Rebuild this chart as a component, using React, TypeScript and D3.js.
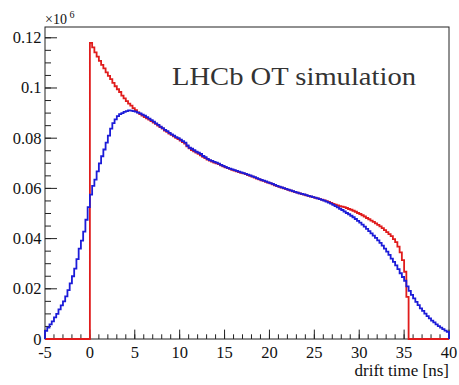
import React from "react";
import * as d3 from "d3";

const binLow = -5;
const binWidth = 0.25;

// blue histogram contents (x10^6), bins of 0.25 ns from -5 to 40 ns
const blueValues = [
  0.0032,0.0045,0.0058,0.0070,0.0086,0.0100,0.0118,0.0134,0.0150,0.0170,0.0195,0.0222,0.0250,0.0280,0.0318,0.0360,0.0392,0.0428,0.0475,0.0525,
  0.0575,0.0610,0.0635,0.0668,0.0700,0.0728,0.0755,0.0782,0.0810,0.0838,0.0860,0.0875,0.0888,0.0896,0.0900,0.0905,0.0908,0.0911,0.0910,0.0908,
  0.0906,0.0902,0.0899,0.0894,0.0890,0.0884,0.0878,0.0872,0.0866,0.0859,0.0853,0.0846,0.0840,0.0833,0.0828,0.0821,0.0815,0.0810,0.0804,0.0800,
  0.0794,0.0788,0.0782,0.0771,0.0762,0.0758,0.0752,0.0746,0.0742,0.0737,0.0729,0.0724,0.0718,0.0713,0.0710,0.0706,0.0703,0.0699,0.0694,0.0690,
  0.0686,0.0682,0.0679,0.0676,0.0673,0.0670,0.0667,0.0664,0.0661,0.0658,0.0655,0.0652,0.0648,0.0645,0.0641,0.0637,0.0634,0.0631,0.0628,0.0624,
  0.0621,0.0618,0.0614,0.0610,0.0607,0.0604,0.0601,0.0598,0.0595,0.0592,0.0589,0.0586,0.0583,0.0580,0.0578,0.0576,0.0573,0.0570,0.0568,0.0565,
  0.0563,0.0560,0.0557,0.0554,0.0551,0.0547,0.0543,0.0539,0.0534,0.0529,0.0524,0.0519,0.0514,0.0508,0.0502,0.0497,0.0491,0.0485,0.0478,0.0471,
  0.0464,0.0456,0.0448,0.0439,0.0430,0.0421,0.0412,0.0403,0.0393,0.0383,0.0372,0.0360,0.0348,0.0335,0.0320,0.0307,0.0293,0.0278,0.0262,0.0247,
  0.0232,0.0210,0.0192,0.0176,0.0162,0.0148,0.0135,0.0122,0.0112,0.0101,0.0091,0.0082,0.0073,0.0066,0.0058,0.0051,0.0045,0.0039,0.0033,0.0028,
];

// red histogram contents (x10^6)
const redValues = [
  0,0,0,0,0,0,0,0,0,0,0,0,0,0,0,0,0,0,0,0,
  0.1180,0.1162,0.1142,0.1125,0.1108,0.1092,0.1078,0.1062,0.1048,0.1035,0.1020,0.1007,0.0995,0.0984,0.0970,0.0959,0.0948,0.0938,0.0930,0.0920,
  0.0912,0.0903,0.0896,0.0890,0.0884,0.0879,0.0874,0.0868,0.0862,0.0857,0.0850,0.0844,0.0838,0.0830,0.0825,0.0818,0.0813,0.0807,0.0801,0.0796,
  0.0790,0.0784,0.0778,0.0768,0.0760,0.0753,0.0748,0.0743,0.0738,0.0732,0.0726,0.0721,0.0715,0.0711,0.0707,0.0703,0.0700,0.0697,0.0692,0.0688,
  0.0684,0.0681,0.0678,0.0674,0.0671,0.0668,0.0665,0.0662,0.0660,0.0657,0.0653,0.0650,0.0647,0.0643,0.0639,0.0636,0.0632,0.0630,0.0626,0.0623,
  0.0620,0.0616,0.0612,0.0609,0.0606,0.0603,0.0600,0.0597,0.0594,0.0591,0.0588,0.0585,0.0583,0.0580,0.0577,0.0575,0.0572,0.0570,0.0567,0.0565,
  0.0562,0.0560,0.0557,0.0555,0.0552,0.0549,0.0546,0.0542,0.0538,0.0535,0.0532,0.0529,0.0527,0.0525,0.0522,0.0518,0.0515,0.0511,0.0507,0.0502,
  0.0498,0.0493,0.0488,0.0482,0.0477,0.0472,0.0467,0.0461,0.0455,0.0449,0.0442,0.0434,0.0426,0.0418,0.0410,0.0398,0.0386,0.0368,0.0345,0.0314,
  0.0268,0.0168,0,0,0,0,0,0,0,0,0,0,0,0,0,0,0,0,0,0,
];

const xTickValues = [-5, 0, 5, 10, 15, 20, 25, 30, 35, 40];
const yTickValues = [0, 0.02, 0.04, 0.06, 0.08, 0.1, 0.12];
const yTickLabels = ["0", "0.02", "0.04", "0.06", "0.08", "0.1", "0.12"];
const xTitle = "drift time [ns]";
const plotLabel = "LHCb OT simulation";

const W = 459;
const H = 385;
const L = 45, R = 449, T = 27, B = 339;
const FONT = '"Liberation Serif", "DejaVu Serif", "Noto Serif", Tinos, "Times New Roman", serif';

export default function App() {
  const x = d3.scaleLinear().domain([-5, 40]).range([L, R]);
  const y = d3.scaleLinear().domain([0, 0.1243]).range([B, T]);

  const histPath = (vals: number[]) => {
    const pts: [number, number][] = [[binLow, 0]];
    vals.forEach((v, i) => pts.push([binLow + i * binWidth, v]));
    const end = binLow + vals.length * binWidth;
    pts.push([end, vals[vals.length - 1]]);
    pts.push([end, 0]);
    return d3
      .line<[number, number]>()
      .x((d) => x(d[0]))
      .y((d) => y(d[1]))
      .curve(d3.curveStepAfter)(pts) as string;
  };

  const xMinor = d3.range(-5, 40.001, 1);
  const yMinor = d3.range(0, 0.1243, 0.005);
  const txt = { fontFamily: FONT } as React.CSSProperties;

  return (
    <svg width={W} height={H} style={{ display: "block", position: "absolute", left: 0, top: 0, background: "#fff" }}>
      <rect x={0} y={0} width={W} height={H} fill="#fff" />
      {/* frame */}
      <rect x={L} y={T} width={R - L} height={B - T} fill="none" stroke="#222" strokeWidth={1} />
      {/* x ticks */}
      {xMinor.map((v, i) => (
        <line key={"xm" + i} x1={x(v)} x2={x(v)} y1={B} y2={B - 4.7} stroke="#222" strokeWidth={1} />
      ))}
      {xTickValues.map((v) => (
        <line key={"xM" + v} x1={x(v)} x2={x(v)} y1={B} y2={B - 9.4} stroke="#222" strokeWidth={1} />
      ))}
      {xTickValues.map((v) => (
        <text key={"xl" + v} x={x(v)} y={358} textAnchor="middle" style={txt} fontSize={16.5} fill="#111">
          {v}
        </text>
      ))}
      {/* y ticks */}
      {yMinor.map((v, i) => (
        <line key={"ym" + i} x1={L} x2={L + 6} y1={y(v)} y2={y(v)} stroke="#222" strokeWidth={1} />
      ))}
      {yTickValues.map((v) => (
        <line key={"yM" + v} x1={L} x2={L + 12} y1={y(v)} y2={y(v)} stroke="#222" strokeWidth={1} />
      ))}
      {yTickValues.map((v, i) => (
        <text key={"yl" + v} x={41.5} y={y(v) + 5.5} textAnchor="end" style={txt} fontSize={16.5} fill="#111">
          {yTickLabels[i]}
        </text>
      ))}
      {/* exponent */}
      <text x={45} y={24} style={txt} fontSize={14} fill="#111">
        ×10
      </text>
      <text x={69.5} y={18} style={txt} fontSize={10} fill="#111">
        6
      </text>
      {/* histograms */}
      <path d={histPath(redValues)} fill="none" stroke="#e01c1c" strokeWidth={1.8} />
      <path d={histPath(blueValues)} fill="none" stroke="#1c1cd8" strokeWidth={1.8} />
      {/* axis title */}
      <text x={R} y={376} textAnchor="end" style={txt} fontSize={17} fill="#111">
        {xTitle}
      </text>
      {/* label */}
      <text x={172} y={85} style={txt} fontSize={25} fill="#333" textLength={244} lengthAdjust="spacingAndGlyphs">
        {plotLabel}
      </text>
    </svg>
  );
}
